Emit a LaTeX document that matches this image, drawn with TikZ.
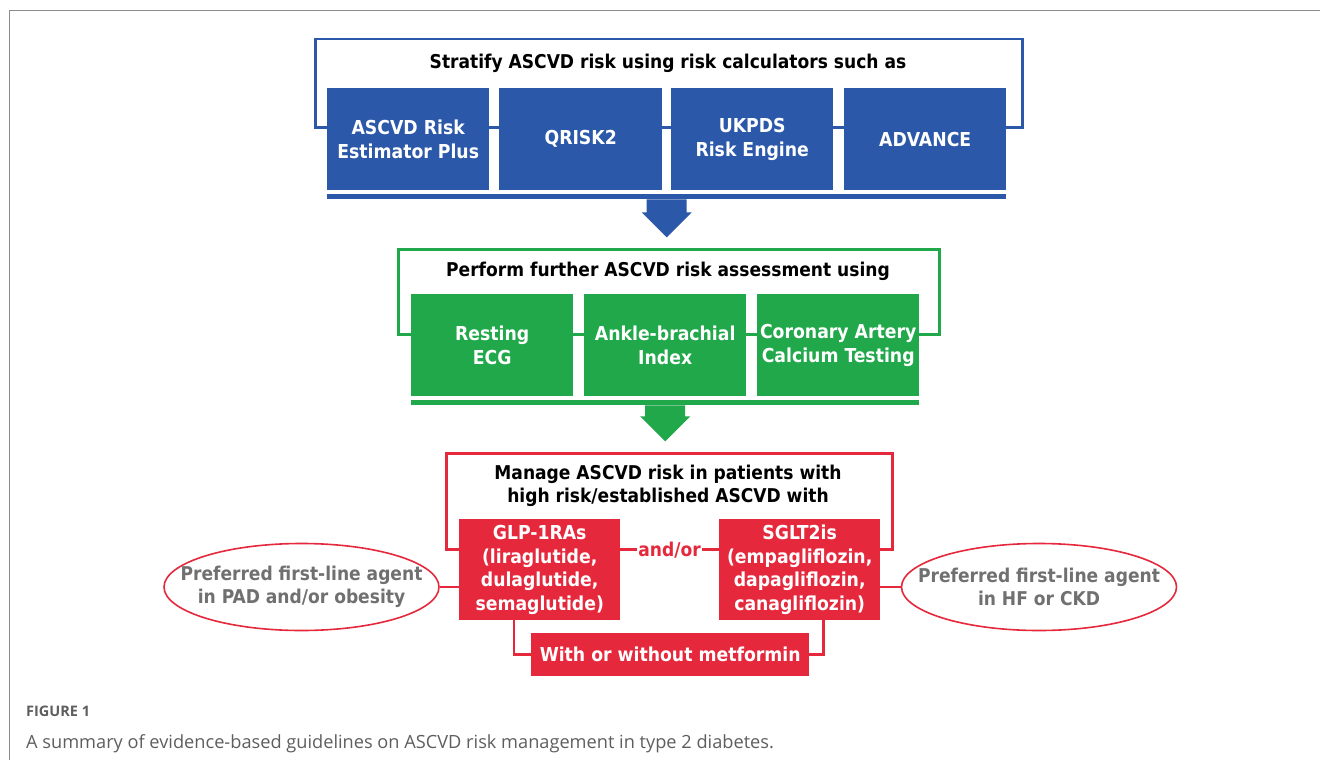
\documentclass[tikz,border=0pt]{standalone}
\usepackage{fontspec}
\usetikzlibrary{shapes.geometric,calc}
\newfontfamily\dfont{DejaVu Sans Condensed}
\newfontfamily\capfont{Open Sans}
\definecolor{cblue}{HTML}{2B58A8}
\definecolor{cgreen}{HTML}{20A84A}
\definecolor{cred}{HTML}{E6283C}
\definecolor{cgray}{HTML}{707070}
\definecolor{framegray}{HTML}{8C8C8C}
\definecolor{capgray}{HTML}{5E5E5E}
\tikzset{
  frameline/.style={draw=#1, line width=2.5pt, rectangle, inner sep=0pt, anchor=north west},
  cell/.style={rectangle, fill=#1, inner sep=0pt, anchor=north west, align=center,
    text=white, font=\dfont\bfseries\fontsize{19.2}{23.5}\selectfont},
  head/.style={inner sep=0pt, align=center, text=black,
    font=\dfont\bfseries\fontsize{19}{22.5}\selectfont},
  bar/.style={rectangle, fill=#1, inner sep=0pt, anchor=north west, minimum height=5pt},
  note/.style={ellipse, draw=cred, line width=1.6pt, fill=white, inner sep=0pt,
    minimum width=275pt, minimum height=87pt},
  notetext/.style={inner sep=0pt, align=center, text=cgray,
    font=\dfont\bfseries\fontsize{19}{23}\selectfont},
  redline/.style={draw=cred, line width=2.5pt},
}
\begin{document}
\begin{tikzpicture}[x=1pt,y=-1pt]
\useasboundingbox (0,0) rectangle (1320,760);
% page frame
\draw[framegray, line width=1.5pt] (9.5,760) -- (9.5,10.5) -- (1320,10.5);

% ---- risk calculators ----
\node[frameline=cblue, minimum width=707pt, minimum height=88pt] (f1) at (314,38) {};
\node[head] (h1) at (668,63) {Stratify ASCVD risk using risk calculators such as};
\node[cell=cblue, minimum width=162pt, minimum height=102pt] (c1) at (327,88) {ASCVD Risk\\Estimator Plus};
\node[cell=cblue, minimum width=163pt, minimum height=102pt] (c2) at (499,88) {QRISK2};
\node[cell=cblue, minimum width=162pt, minimum height=102pt] (c3) at (671,88) {UKPDS\\Risk Engine};
\node[cell=cblue, minimum width=162pt, minimum height=102pt] (c4) at (844,88) {ADVANCE};
\node[bar=cblue, minimum width=679pt] (b1) at (327,194) {};
\coordinate (a1) at (b1.south);
\fill[cblue] (a1) ++(-20,0) -- ++(0,13) -- ++(-5,0) -- ++(25,25) -- ++(25,-25) -- ++(-5,0) -- ++(0,-13) -- cycle;

% ---- further assessment ----
\node[frameline=cgreen, minimum width=541pt, minimum height=85pt] (f2) at (397,248) {};
\node[head] (h2) at (668,271) {Perform further ASCVD risk assessment using};
\node[cell=cgreen, minimum width=162pt, minimum height=102pt] (g1) at (411,294) {Resting\\ECG};
\node[cell=cgreen, minimum width=162pt, minimum height=102pt] (g2) at (584,294) {Ankle-brachial\\Index};
\node[cell=cgreen, minimum width=162pt, minimum height=102pt] (g3) at (757,294) {Coronary Artery\\Calcium Testing};
\node[bar=cgreen, minimum width=508pt] (b2) at (411,400) {};
\coordinate (a2) at (b2.south);
\fill[cgreen] (a2) ++(-20,0) -- ++(0,11) -- ++(-5,0) -- ++(25,25) -- ++(25,-25) -- ++(-5,0) -- ++(0,-11) -- cycle;

% ---- management ----
\node[frameline=cred, minimum width=446pt, minimum height=96pt] (f3) at (445,452) {};
\node[head] (h3) at (668,486) {Manage ASCVD risk in patients with\\high risk/established ASCVD with};
\node[cell=cred, minimum width=161pt, minimum height=101pt] (glp) at (459,519) {GLP-1RAs\\(liraglutide,\\dulaglutide,\\semaglutide)};
\node[cell=cred, minimum width=161pt, minimum height=101pt] (sglt) at (719,519) {SGLT2is\\(empagliflozin,\\dapagliflozin,\\canagliflozin)};
\node[fill=white, inner sep=1.5pt, text=cred, font=\dfont\bfseries\fontsize{19}{22}\selectfont] (andor) at (669.5,550) {and/or};
\node[note] (e1) at (301.5,587) {};
\node[notetext] (t1) at (e1.center) {Preferred first-line agent\\in PAD and/or obesity};
\node[note] (e2) at (1039,587) {};
\node[notetext] (t2) at (e2.center) {Preferred first-line agent\\in HF or CKD};
\node[cell=cred, minimum width=278pt, minimum height=43pt] (met) at (531,633) {With or without metformin};
\draw[redline] (e1.east) -- (e1.east -| glp.west);
\draw[redline] (e2.west) -- (e2.west -| sglt.east);
\draw[redline] ([xshift=55pt]glp.south west) |- (met.west);
\draw[redline] ([xshift=-57pt]sglt.south east) |- (met.east);

% ---- caption ----
\node[anchor=base west, inner sep=0pt, text=capgray, font=\capfont\bfseries\fontsize{14.5}{16}\selectfont] (fig) at (26,716) {FIGURE 1};
\node[anchor=base west, inner sep=0pt, text=capgray, font=\capfont\fontsize{18.2}{21}\selectfont] (cap) at (26,748) {A summary of evidence-based guidelines on ASCVD risk management in type 2 diabetes.};
\end{tikzpicture}
\end{document}
